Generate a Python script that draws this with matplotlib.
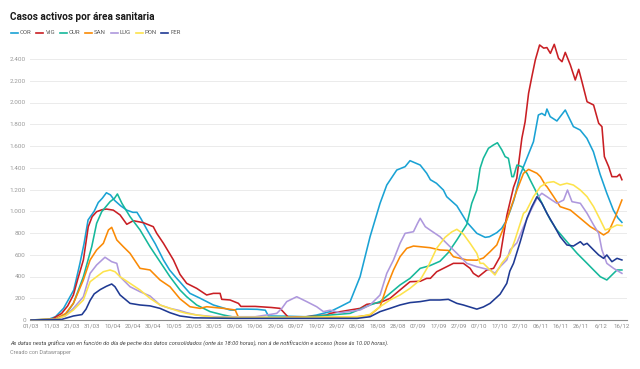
import matplotlib
matplotlib.use("Agg")
import matplotlib.pyplot as plt
from matplotlib.lines import Line2D
from matplotlib.ticker import FuncFormatter

plt.rcParams["font.family"] = ["Roboto", "DejaVu Sans"]

# días contados desde o 01/03 e casos activos
cor = [(0, 0), (8, 2), (12, 30), (16, 108), (21, 276), (24, 520), (26, 700), (28, 920), (31, 1000),
       (33, 1080), (35, 1120), (37, 1170), (39, 1150), (41, 1100), (44, 1050), (47, 1010), (50, 990),
       (52, 990), (54, 930), (57, 828), (61, 700), (65, 552), (68, 460), (71.5, 383), (73, 352),
       (78, 245), (83, 200), (89.5, 138), (97.7, 92), (100, 90), (101, 100), (106, 100), (111, 98),
       (115, 90), (116.5, 37), (125, 35), (135, 30), (140, 45), (146.8, 77), (151.7, 122),
       (156.6, 169), (161.5, 398), (166.4, 766), (171.3, 1073), (174.6, 1241), (179.5, 1379),
       (183.6, 1410), (186, 1465), (191, 1425), (194.2, 1349), (196, 1290), (199, 1257),
       (202.4, 1195), (204, 1134), (209, 1050), (213.9, 900), (218.8, 797), (222.9, 760), (225, 766),
       (228.6, 803), (231, 843), (233, 904), (235, 996), (237, 1103), (240, 1330), (243.4, 1490),
       (246.6, 1640), (249, 1885), (250.7, 1900), (252.3, 1880), (253.2, 1940), (254.8, 1870),
       (258.1, 1830), (262.2, 1931), (266.2, 1778), (269.5, 1747), (272.8, 1671), (276, 1548),
       (279.3, 1340), (282.6, 1165), (285.8, 1011), (288, 940), (290, 898)]

vig = [(0, 0), (10, 5), (15, 60), (18, 130), (20.8, 230), (23, 380), (25.7, 552), (28.1, 858), (30, 950),
       (32.2, 996), (35, 1015), (37.1, 1020), (40.4, 1010), (43.7, 966), (47, 880), (50.2, 913),
       (55.1, 895), (60, 858), (61.7, 797), (65, 705), (69.9, 552), (73.1, 420), (76.4, 337),
       (81.3, 291), (86.2, 230), (89.5, 245), (92.8, 245), (93.6, 190), (97.7, 184), (101.8, 153),
       (103, 125), (110, 125), (118, 115), (122.2, 107), (126.3, 25), (135, 30), (145, 45),
       (146.8, 61), (156.6, 92), (161.5, 107), (164.8, 144), (171.3, 160), (176.2, 199), (181.1, 276),
       (186, 352), (191, 356), (194.2, 383), (196, 383), (199.1, 444), (204, 490), (207.3, 521),
       (212.2, 521), (215.5, 475), (217.1, 429), (219.6, 398), (223.7, 460), (227, 475), (230.2, 582),
       (233.5, 960), (236.8, 1220), (238.4, 1303), (240.9, 1671), (242.5, 1823), (244.2, 2085),
       (245.8, 2237), (247.5, 2391), (249.6, 2529), (251.6, 2500), (253.2, 2505), (254.9, 2452),
       (256.8, 2535), (258.9, 2406), (260.6, 2375), (262.2, 2461), (264.7, 2345), (267.1, 2207),
       (268.8, 2305), (270.4, 2191), (272.9, 2007), (276.1, 1977), (278.6, 1809), (280.2, 1778),
       (281.4, 1502), (283.5, 1410), (285.1, 1318), (287.6, 1318), (288.9, 1340), (290, 1290)]

our = [(0, 0), (12, 10), (17, 50), (20.8, 153), (25.7, 398), (29.8, 674), (32.2, 889), (34.7, 996),
       (38.8, 1088), (41, 1120), (42.4, 1159), (44.6, 1073), (48.6, 950), (53.5, 828), (58.4, 674),
       (63.3, 536), (68.2, 398), (73.1, 276), (76.4, 214), (81.3, 138), (87.9, 77), (94.4, 46),
       (100, 25), (130, 20), (146.8, 46), (156.6, 61), (166.4, 138), (171.3, 169), (176.2, 245),
       (181.1, 322), (186, 383), (191, 475), (195.8, 500), (200.7, 540), (204.8, 620), (209, 736),
       (213.9, 880), (216.3, 1073), (218.8, 1195), (220.4, 1395), (222, 1487), (224.5, 1579),
       (226.9, 1609), (228.9, 1630), (231.1, 1563), (232.7, 1502), (234.3, 1487), (236, 1318),
       (236.8, 1318), (238.5, 1425), (240.9, 1410), (242.6, 1364), (243.4, 1349), (245, 1287),
       (247.5, 1195), (250, 1103), (253.2, 981), (254.9, 920), (258.1, 828), (263, 720), (268, 613),
       (272.9, 521), (276.1, 460), (279.4, 398), (282.6, 368), (285.1, 414), (287.6, 460), (290, 460)]

san = [(0, 0), (12, 10), (17, 60), (20.8, 153), (25.7, 368), (29, 552), (32.2, 644), (35.5, 705),
       (38, 828), (39.6, 852), (42.1, 736), (45.3, 674), (48.6, 613), (53.5, 475), (58.4, 460),
       (63.3, 368), (68.2, 306), (73.1, 195), (78, 122), (83, 107), (86.2, 122), (94.4, 107),
       (100.2, 92), (101.8, 25), (120, 20), (160, 30), (166.4, 46), (171.3, 122), (174.6, 306),
       (177.9, 460), (181.1, 582), (184.4, 659), (187.7, 680), (191, 674), (195.8, 665), (200.7, 644),
       (204.8, 640), (207.3, 582), (210.6, 567), (213.9, 552), (218.8, 550), (222, 570), (225.3, 628),
       (228.6, 690), (230.2, 766), (233.5, 920), (235.1, 1011), (238.5, 1195), (241.7, 1349),
       (244.2, 1385), (246.6, 1364), (248.3, 1349), (250, 1318), (252.4, 1241), (253.2, 1226),
       (256.5, 1134), (259.7, 1042), (264.7, 1011), (269.6, 935), (274.5, 858), (278.6, 812),
       (281, 782), (283.5, 812), (286.8, 950), (290, 1103)]

lug = [(0, 0), (12, 5), (17, 40), (20.8, 107), (25.7, 214), (29, 429), (32.2, 506), (36.3, 577),
       (39.6, 536), (42.1, 521), (43.7, 398), (48.6, 306), (53.5, 260), (58.4, 221), (63.3, 138),
       (68.2, 107), (73.1, 86), (76.4, 67), (81.3, 46), (90, 30), (110, 30), (115.7, 46), (120.6, 61),
       (123.1, 107), (125.5, 169), (130.4, 214), (135.3, 169), (140.2, 122), (143.5, 77), (146.8, 90),
       (151.7, 67), (161.5, 92), (166.4, 138), (171.3, 230), (174.6, 429), (177.9, 552), (181.1, 705),
       (183.6, 797), (187.7, 812), (189.7, 889), (191, 935), (193.5, 858), (195.8, 828), (200.7, 766),
       (204.8, 690), (209, 613), (213.9, 521), (218.8, 490), (222, 475), (225.3, 460), (227.7, 429),
       (230.2, 490), (233.5, 552), (235.1, 644), (238.5, 710), (241.7, 858), (245, 996), (248.3, 1119),
       (250.7, 1165), (253.2, 1134), (255.6, 1103), (258.1, 1073), (261.4, 1103), (263.3, 1195),
       (265.5, 1088), (269.6, 1073), (272.9, 981), (276.1, 874), (278.6, 797), (280.2, 644),
       (282.6, 521), (285.9, 475), (290, 429)]

pon = [(0, 0), (12, 5), (17, 40), (20.8, 92), (25.7, 184), (29, 352), (32.2, 398), (35.5, 444),
       (38.8, 460), (41.2, 444), (43.7, 398), (48.6, 337), (53.5, 276), (58.4, 199), (63.3, 138),
       (68.2, 107), (73.1, 77), (76.4, 61), (81.3, 46), (90, 25), (140, 25), (146.8, 30), (161.5, 30),
       (166.4, 52), (171.3, 122), (176.2, 184), (181.1, 230), (186, 291), (191, 368), (195.1, 500),
       (199.1, 660), (203.2, 760), (206.5, 810), (209, 834), (212.2, 790), (215.5, 705), (218.8, 613),
       (220.4, 521), (222, 521), (225.3, 460), (227.7, 414), (231, 521), (235.1, 613), (237.5, 736),
       (241.7, 981), (243, 1000), (245, 1073), (246.6, 1134), (250, 1226), (253.2, 1263),
       (256.5, 1272), (259.7, 1241), (263, 1257), (266.2, 1241), (269.6, 1195), (272.9, 1134),
       (276.1, 1042), (279.4, 920), (281.8, 828), (284.3, 843), (287.6, 874), (290, 868)]

fer = [(0, 0), (15, 5), (20.8, 37), (25, 50), (27, 100), (29, 180), (31, 240), (34, 280), (37, 310),
       (39.6, 331), (41.2, 306), (43.7, 230), (48.6, 153), (53.5, 138), (58.4, 130), (63.3, 107),
       (68.2, 67), (73.1, 37), (80, 20), (100, 15), (160, 15), (166.4, 30), (171.3, 77), (176.2, 107),
       (181.1, 138), (186, 160), (191, 169), (195.8, 184), (200.7, 184), (204.8, 190), (209, 153),
       (212.2, 138), (213.9, 128), (218.8, 100), (222, 120), (225.3, 153), (230.2, 237), (233.5, 337),
       (235, 450), (236.8, 521), (240.1, 720), (243.4, 935), (245.8, 1042), (248.3, 1134),
       (250.7, 1073), (253.2, 981), (256.5, 874), (259.7, 766), (263, 690), (266.2, 680), (269.6, 720),
       (271.2, 690), (272.9, 705), (276.1, 644), (278.6, 598), (281, 567), (282.6, 598), (285.1, 536),
       (287.6, 567), (290, 552)]

nomes = ["COR", "VIG", "OUR", "SAN", "LUG", "PON", "FER"]
datos = [cor, vig, our, san, lug, pon, fer]
cores = ["#1aa2d4", "#c91f24", "#15b89b", "#fa8a05", "#ae98dd", "#fde34c", "#1f3a93"]

dias_x = list(range(0, 291, 10))
etiquetas_x = ["01/03", "11/03", "21/03", "31/03", "10/04", "20/04", "30/04", "10/05", "20/05",
               "30/05", "09/06", "19/06", "29/06", "09/07", "19/07", "29/07", "08/08", "18/08",
               "28/08", "07/09", "17/09", "27/09", "07/10", "17/10", "27/10", "06/11", "16/11",
               "26/11", "6/12", "16/12"]
valores_y = list(range(0, 2401, 200))

W, H = 640, 369
fig = plt.figure(figsize=(W / 100, H / 100), dpi=100)
ax = fig.add_axes([30 / W, 1 - 320 / H, 597 / W, (320 - 41.6) / H])

for serie, cor_l in zip(datos, cores):
    d, v = zip(*serie)
    ax.plot(d, v, color=cor_l, lw=1.15, solid_joinstyle="round", clip_on=False)

ax.set_xlim(-0.5, 292.5)
ax.set_ylim(0, 2560)
ax.set_yticks(valores_y)
ax.yaxis.set_major_formatter(FuncFormatter(lambda v, p: f"{int(v):,}".replace(",", ".")))
ax.set_xticks(dias_x)
ax.set_xticklabels(etiquetas_x)
ax.tick_params(axis="y", length=0, pad=3, labelsize=4.6, labelcolor="#9a9a9a")
ax.tick_params(axis="x", length=0, pad=2.2, labelsize=4.4, labelcolor="#8a8a8a")
ax.grid(axis="y", color="#ebebeb", lw=0.7)
ax.set_axisbelow(True)
for s in ["top", "right", "left"]:
    ax.spines[s].set_visible(False)
ax.spines["bottom"].set_color("#8c8c8c")
ax.spines["bottom"].set_linewidth(0.8)

fig.text(10 / W, 1 - 16.5 / H, "Casos activos por área sanitaria", fontsize=7.2,
         fontweight="bold", color="#1a1a1a", va="center")

# lenda
fig.canvas.draw()
rend = fig.canvas.get_renderer()
x = 11
yl = 1 - 32.7 / H
for nome, cor_l in zip(nomes, cores):
    fig.add_artist(Line2D([x / W, (x + 7) / W], [yl, yl], color=cor_l, lw=1.2,
                          transform=fig.transFigure))
    t = fig.text((x + 9) / W, yl, nome, fontsize=4.3, color="#555555", va="center")
    bb = t.get_window_extent(rend)
    x = bb.x1 + 4.7

fig.text(10 / W, 1 - 343.3 / H,
         "As datas nesta gráfica van en función do día de peche dos datos consolidados "
         "(onte ás 18:00 horas), non á de notificación e acceso (hoxe ás 10.00 horas).",
         fontsize=4.1, style="italic", color="#444444", va="center")
fig.text(10 / W, 1 - 352.7 / H, "Creado con Datawrapper", fontsize=4.0, color="#8a8a8a", va="center")

fig.savefig("out.png", dpi=100)
